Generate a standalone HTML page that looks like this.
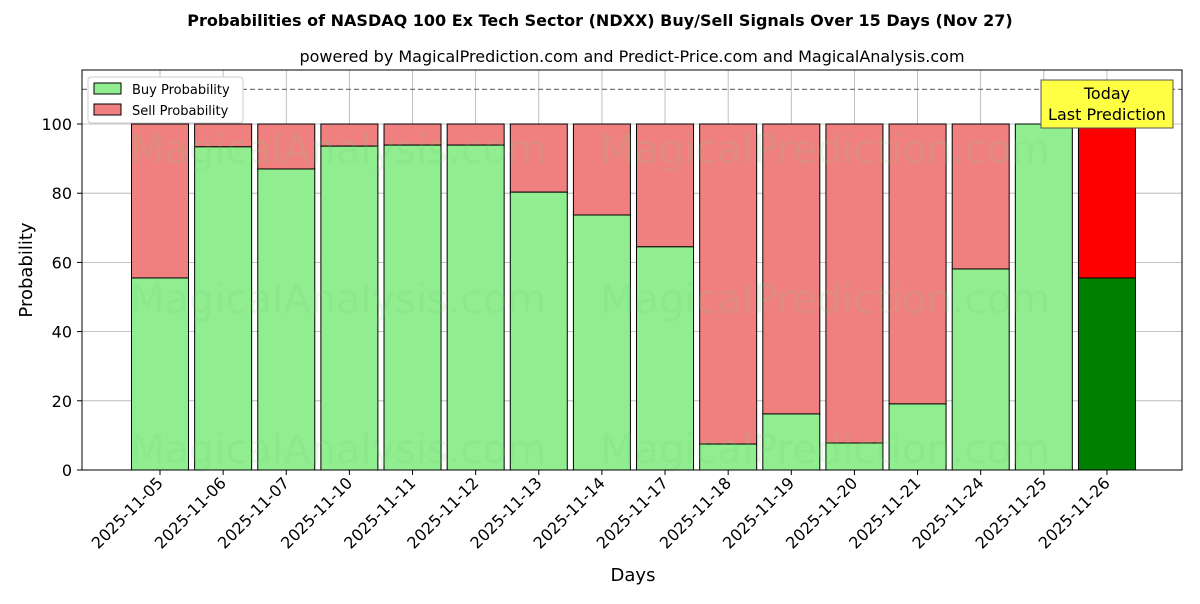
<!DOCTYPE html>
<html><head><meta charset="utf-8"><style>
body{margin:0;background:#fff;font-family:"DejaVu Sans","Liberation Sans",sans-serif}
</style></head><body>
<svg id="chart" width="1200" height="600" xmlns="http://www.w3.org/2000/svg" font-family="DejaVu Sans, Liberation Sans, sans-serif">
<rect width="1200" height="600" fill="#fff"/>
<text x="600" y="26" text-anchor="middle" font-size="16" font-weight="bold">Probabilities of NASDAQ 100 Ex Tech Sector (NDXX) Buy/Sell Signals Over 15 Days (Nov 27)</text>
<text x="632" y="62" text-anchor="middle" font-size="16">powered by MagicalPrediction.com and Predict-Price.com and MagicalAnalysis.com</text>
<g id="grid"></g>
<g id="bars"></g>
<g id="wm" font-size="40" fill="#6fcf6f" fill-opacity="0.15">
<text x="130" y="163">MagicalAnalysis.com</text>
<text x="600" y="163">MagicalPrediction.com</text>
<text x="130" y="313">MagicalAnalysis.com</text>
<text x="600" y="313">MagicalPrediction.com</text>
<text x="130" y="463">MagicalAnalysis.com</text>
<text x="600" y="463">MagicalPrediction.com</text>
</g>
<line id="thr" x1="82" x2="1182" stroke="#777" stroke-dasharray="5,3" stroke-width="1.2"/>
<rect x="82" y="70" width="1100" height="400" fill="none" stroke="#000" stroke-width="1"/>
<g id="axes" font-size="16"></g>
<text x="32" y="270" text-anchor="middle" font-size="18" transform="rotate(-90 32 270)">Probability</text>
<text x="633" y="581" text-anchor="middle" font-size="18">Days</text>
<g>
<rect x="88" y="77" width="155" height="46" fill="#fff" stroke="#ccc" rx="3"/>
<rect x="94" y="83" width="27" height="11" fill="#90ee90" stroke="#000"/>
<text x="132" y="94" font-size="13">Buy Probability</text>
<rect x="94" y="104" width="27" height="11" fill="#f08080" stroke="#000"/>
<text x="132" y="115" font-size="13">Sell Probability</text>
</g>
<g>
<rect x="1041" y="80" width="132" height="48" fill="#ffff44" stroke="#555"/>
<text x="1107" y="99" text-anchor="middle" font-size="16">Today</text>
<text x="1107" y="120" text-anchor="middle" font-size="16">Last Prediction</text>
</g>
</svg>
<script>
const categories=["2025-11-05","2025-11-06","2025-11-07","2025-11-10","2025-11-11","2025-11-12","2025-11-13","2025-11-14","2025-11-17","2025-11-18","2025-11-19","2025-11-20","2025-11-21","2025-11-24","2025-11-25","2025-11-26"];
const buyValues=[55.5,93.4,87.0,93.6,93.9,93.9,80.3,73.7,64.5,7.5,16.2,7.8,19.1,58.1,100,55.5];
const yTicks=[0,20,40,60,80,100];
const threshold=110;
const NS="http://www.w3.org/2000/svg";
const y=v=>470-v*3.46;
const x=i=>160+i*63.13;
const bw=57;
function mk(t,a,p){const e=document.createElementNS(NS,t);for(const k in a)e.setAttribute(k,a[k]);p.appendChild(e);return e;}
const grid=document.getElementById('grid'),bars=document.getElementById('bars'),axes=document.getElementById('axes');
yTicks.forEach(v=>{
 const l=mk('line',{x1:82,x2:1182,y1:y(v),y2:y(v),stroke:'#b0b0b0','stroke-width':0.8},grid);
 
 
 mk('line',{x1:77,x2:82,y1:y(v),y2:y(v),stroke:'#000'},axes);
 const t=mk('text',{x:72,y:y(v)+6,'text-anchor':'end'},axes);t.textContent=v;
 
 
});
categories.forEach((c,i)=>{
 const l=mk('line',{x1:x(i),x2:x(i),y1:70,y2:470,stroke:'#b0b0b0','stroke-width':0.8},grid);
 
 
 const last=i===categories.length-1;
 const b=buyValues[i];
 const s=mk('rect',{x:x(i)-bw/2,y:y(100),width:bw,height:y(b)-y(100),fill:last?'#ff0000':'#f08080',stroke:'#000','stroke-width':1},bars);
 
 
 const r=mk('rect',{x:x(i)-bw/2,y:y(b),width:bw,height:y(0)-y(b),fill:last?'#008000':'#90ee90',stroke:'#000','stroke-width':1},bars);
 
 
 mk('line',{x1:x(i),x2:x(i),y1:470,y2:475,stroke:'#000'},axes);
 const t=mk('text',{x:x(i)+4,y:484,'text-anchor':'end',transform:`rotate(-45 ${x(i)+4} 484)`},axes);t.textContent=c;
 
 
});
const th=document.getElementById('thr');th.setAttribute('y1',y(threshold));th.setAttribute('y2',y(threshold));
</script>
</body></html>
